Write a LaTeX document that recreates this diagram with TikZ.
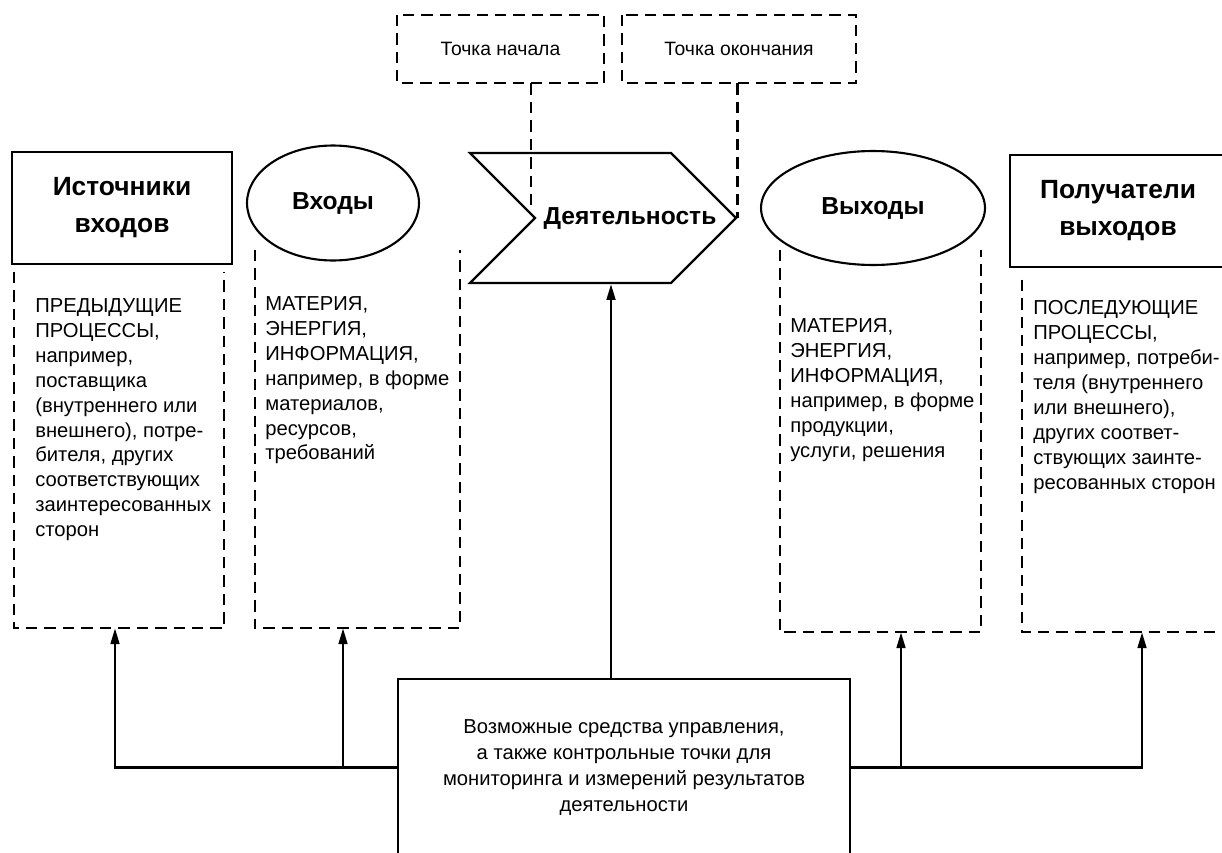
\documentclass[tikz,border=0pt]{standalone}
\usepackage{fontspec}
\setmainfont{Liberation Sans}
\usetikzlibrary{arrows.meta,shapes.geometric,shapes.symbols}
\tikzset{
  boxed/.style={draw, line width=1.5pt, inner sep=0pt},
  oval/.style={draw, ellipse, line width=1.2pt, inner sep=0pt},
  chev/.style={draw, signal, signal from=west, signal to=east, line width=1.3pt, inner sep=0pt},
  dbox/.style={draw=none, inner sep=0pt},
  dline/.style={line width=1.3pt, dash pattern=on 6.5pt off 4pt},
  conn/.style={line width=1.3pt},
  arr/.style={line width=1.3pt, -{Triangle[length=9pt,width=5pt]}},
  ttl/.style={font=\fontsize{14}{20}\selectfont\bfseries, align=center},
  bigttl/.style={font=\fontsize{15}{21}\selectfont\bfseries, align=center},
  txt/.style={font=\fontsize{11.5}{14.2}\selectfont, align=left, inner sep=0pt, anchor=north west},
  note/.style={font=\fontsize{11.5}{14.8}\selectfont, align=center},
}
\begin{document}
\begin{tikzpicture}[x=0.02cm,y=-0.02cm]
  \useasboundingbox (0,0) rectangle (1222,852);
  \clip (0,0) rectangle (1222,852);

  % start and end points
  \node[boxed, draw=none, minimum width=4.1cm, minimum height=1.32cm] (startbox) at (500.5,49) {};
  \node[boxed, draw=none, minimum width=4.64cm, minimum height=1.32cm] (endbox) at (739,49) {};
  \draw[dline] (startbox.north west) rectangle (startbox.south east);
  \draw[dline] (endbox.north west) rectangle (endbox.south east);
  \node[note, font=\fontsize{11}{14}\selectfont] (starttxt) at (startbox) {Точка начала};
  \node[note, font=\fontsize{11}{14}\selectfont] (endtxt) at (endbox) {Точка окончания};

  % main row
  \node[boxed, minimum width=4.4cm, minimum height=2.24cm, bigttl] (src) at (122,208) {Источники\\входов};
  \node[oval, minimum width=3.44cm, minimum height=2.3cm, ttl] (in) at (333,203) {Входы};
  \node[chev, minimum width=5.32cm, minimum height=2.6cm] (act) at (603,218) {};
  \node[ttl] (acttxt) at (630,218) {Деятельность};
  \node[oval, minimum width=4.48cm, minimum height=2.28cm, ttl] (out) at (873,208) {Выходы};
  \node[boxed, minimum width=4.32cm, minimum height=2.24cm, bigttl] (recv) at (1118,211) {Получатели\\выходов};

  % dashed columns
  \node[dbox, minimum width=4.2cm, minimum height=7.12cm] (srcd) at (119,450) {};
  \node[dbox, minimum width=4.1cm, minimum height=7.56cm] (ind) at (357.5,439) {};
  \node[dbox, minimum width=4.02cm, minimum height=7.64cm] (outd) at (880.5,441) {};
  \node[dbox, minimum width=4.8cm, minimum height=7.04cm] (recvd) at (1142,456) {};
  \foreach \n in {srcd,ind,outd,recvd}
    \draw[dline] (\n.north west) |- (\n.south east) -- (\n.north east);

  \node[txt] (srctxt) at (35,298) {ПРЕДЫДУЩИЕ\\ПРОЦЕССЫ,\\например,\\поставщика\\(внутреннего или\\внешнего), потре-\\бителя, других\\соответствующих\\заинтересованных\\сторон};
  \node[txt] (intxt) at (265,296) {МАТЕРИЯ,\\ЭНЕРГИЯ,\\ИНФОРМАЦИЯ,\\например, в форме\\материалов,\\ресурсов,\\требований};
  \node[txt] (outtxt) at (790,318) {МАТЕРИЯ,\\ЭНЕРГИЯ,\\ИНФОРМАЦИЯ,\\например, в форме\\продукции,\\услуги, решения};
  \node[txt] (recvtxt) at (1033,300) {ПОСЛЕДУЮЩИЕ\\ПРОЦЕССЫ,\\например, потреби-\\теля (внутреннего\\или внешнего),\\других соответ-\\ствующих заинте-\\ресованных сторон};

  % control
  \node[boxed, minimum width=9.04cm, minimum height=3.54cm, note] (ctrl) at (624,767.5) {Возможные средства управления,\\а также контрольные точки для\\мониторинга и измерений результатов\\деятельности};

  % links
  \coordinate (startend) at (531,207);
  \draw[dline] (startend |- startbox.south) -- (startend);
  \draw[dline] (act.east |- endbox.south) -- (act.east);

  \coordinate (srcarr) at ([xshift=-0.08cm]srcd.south);
  \coordinate (inarr) at ([xshift=-0.29cm]ind.south);
  \coordinate (outarr) at ([xshift=0.41cm]outd.south);
  \coordinate (ctrltop) at ([xshift=-0.26cm]ctrl.north);
  \draw[arr] (ctrl.west) -| (srcarr);
  \draw[arr] (ctrl.west -| inarr) -- (inarr);
  \draw[arr] (ctrl.east) -| (recvd.south);
  \draw[arr] (ctrl.east -| outarr) -- (outarr);
  \draw[arr] (ctrltop) -- (ctrltop |- act.south);
\end{tikzpicture}
\end{document}
